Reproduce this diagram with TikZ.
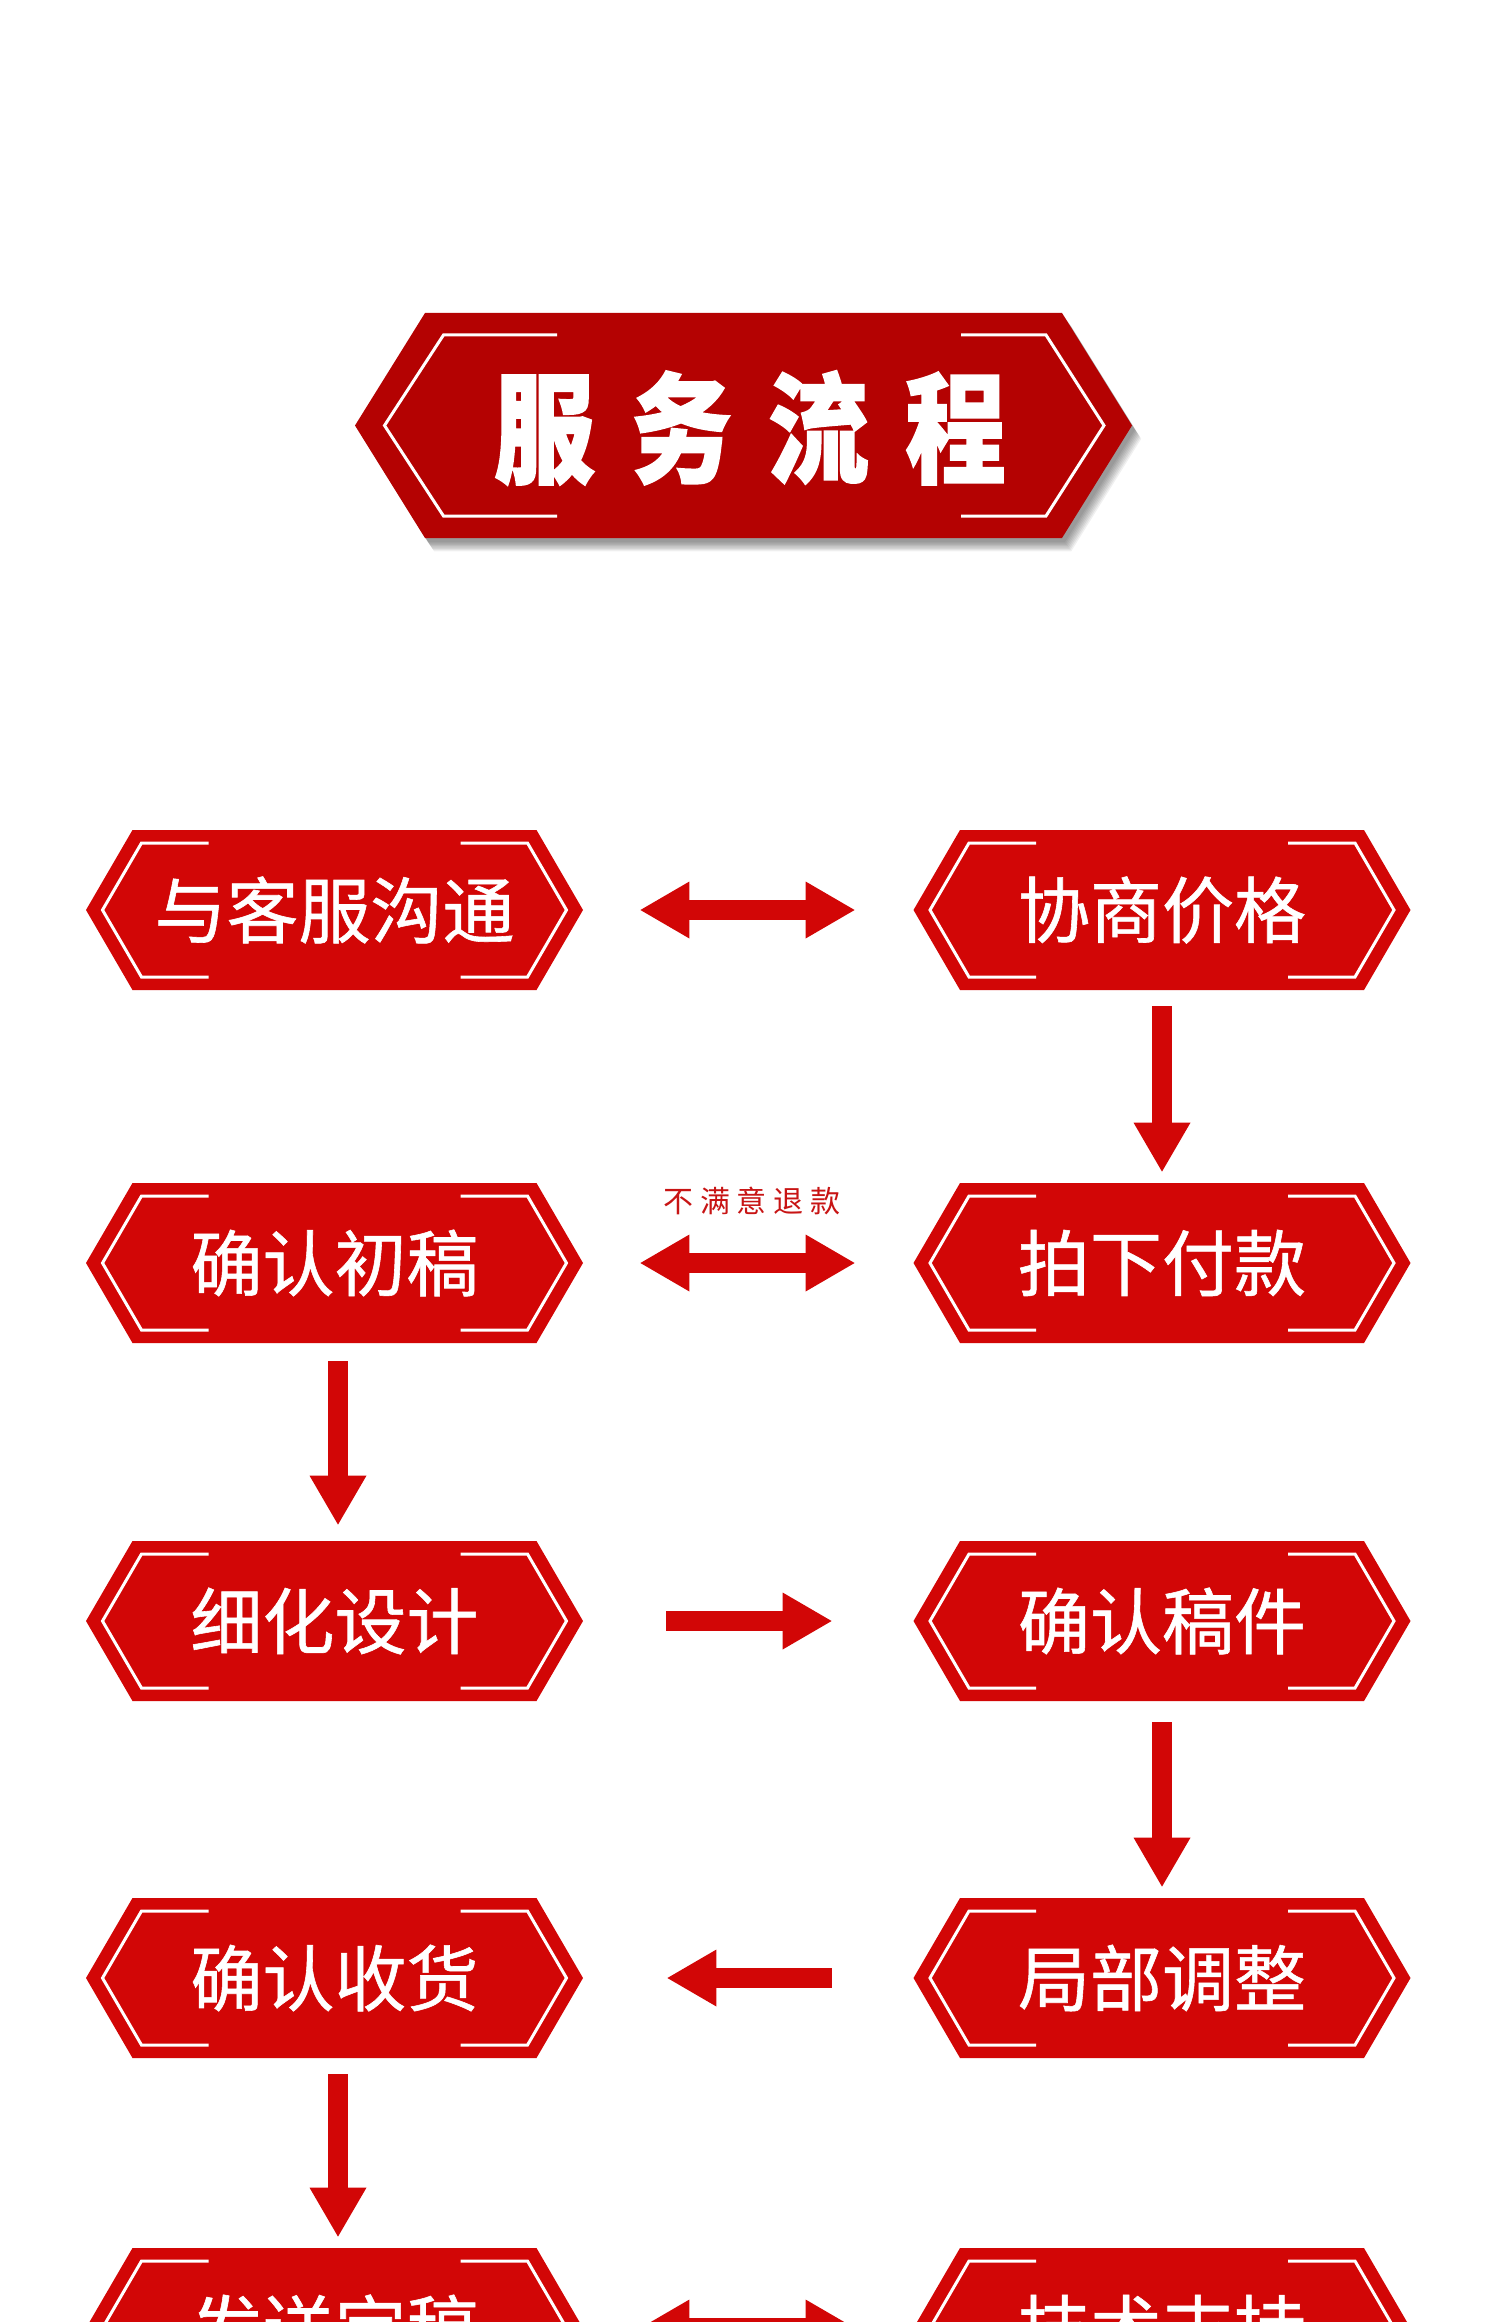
\documentclass[tikz,border=0pt]{standalone}
\usepackage{fontspec}
\usetikzlibrary{arrows.meta}
\newfontfamily\cjk[FakeBold=0.8]{Noto Sans CJK SC}
\newfontfamily\cjktitle[LetterSpace=36,FakeBold=1.5]{Noto Sans CJK SC}
\newfontfamily\cjklabel[LetterSpace=23]{Noto Sans CJK SC}
\definecolor{boxred}{HTML}{D20606}
\definecolor{titlered}{HTML}{B40202}
\definecolor{labelred}{HTML}{C81414}
\tikzset{
  bracket/.style={draw=white, line width=1.5pt},
  pics/hexbox/.style={code={
    \fill[boxred] (-248.5,0) -- (-202,-80) -- (202,-80) -- (248.5,0) -- (202,80) -- (-202,80) -- cycle;
    \draw[bracket] (-126,-67) -- (-193,-67) -- (-232,0) -- (-193,67) -- (-126,67);
    \draw[bracket] (126,-67) -- (193,-67) -- (232,0) -- (193,67) -- (126,67);
  }},
  pics/titlebox/.style={code={
    \foreach \d in {1,...,8}{
      \begin{scope}[shift={(2+0.9*\d,3+1.3*\d)}]
        \fill[black,opacity=0.06] (-388.5,0) -- (-318.5,-112.5) -- (318.5,-112.5) -- (388.5,0) -- (318.5,112.5) -- (-318.5,112.5) -- cycle;
      \end{scope}
    }
    \fill[titlered] (-388.5,0) -- (-318.5,-112.5) -- (318.5,-112.5) -- (388.5,0) -- (318.5,112.5) -- (-318.5,112.5) -- cycle;
    \draw[bracket] (-186.5,-90.5) -- (-300,-90.5) -- (-359,0) -- (-300,90.5) -- (-186.5,90.5);
    \draw[bracket] (217.5,-90.5) -- (302.5,-90.5) -- (360.5,0) -- (302.5,90.5) -- (217.5,90.5);
  }},
  boxtext/.style={minimum width=248.5pt, minimum height=80pt, inner sep=0pt, text=white,
    font=\cjk\fontsize{36pt}{36pt}\selectfont},
  titletext/.style={inner sep=0pt, text=white, font=\cjktitle\bfseries\fontsize{60pt}{60pt}\selectfont},
  refundlabel/.style={inner sep=0pt, text=labelred, font=\cjklabel\fontsize{15pt}{15pt}\selectfont},
  blockarrow/.style={draw=boxred, line width=10pt,
    >={Triangle[length=24.5pt,width=28.5pt,line width=0pt]}},
}
\begin{document}
\begin{tikzpicture}[x=0.5pt,y=-0.5pt]
\path[use as bounding box, fill=white] (0,0) rectangle (1500,2322);
\clip (0,0) rectangle (1500,2322);

% title
\pic at (743.5,425.5) {titlebox};
\node[titletext] (title) at (750,428) {\scalebox{0.84}[1]{服务流程}};

% boxes
\foreach \x/\y in {334.5/910,1162/910,334.5/1263,1162/1263,334.5/1621,1162/1621,334.5/1978,1162/1978,334.5/2328,1162/2328}
  \pic at (\x,\y) {hexbox};

\node[boxtext] (L1) at (334.5,910) {与客服沟通};
\node[boxtext] (R1) at (1162,910) {协商价格};
\node[boxtext] (L2) at (334.5,1263) {确认初稿};
\node[boxtext] (R2) at (1162,1263) {拍下付款};
\node[boxtext] (L3) at (334.5,1621) {细化设计};
\node[boxtext] (R3) at (1162,1621) {确认稿件};
\node[boxtext] (L4) at (334.5,1978) {确认收货};
\node[boxtext] (R4) at (1162,1978) {局部调整};
\node[boxtext] (L5) at (334.5,2328) {发送定稿};
\node[boxtext] (R5) at (1162,2328) {技术支持};

\node[refundlabel] (refund) at (752,1201) {不满意退款};

% connectors
\draw[blockarrow,<->,shorten <=28.5pt,shorten >=29.25pt] (L1.east) -- (R1.west);
\draw[blockarrow,->,shorten <=8pt,shorten >=5.5pt] (R1.south) -- (R2.north);
\draw[blockarrow,<->,shorten <=28.5pt,shorten >=29.25pt] (L2.east) -- (R2.west);
\draw[blockarrow,->,shorten <=9pt,shorten >=8pt] ([xshift=1.75pt]L2.south) -- ([xshift=1.75pt]L3.north);
\draw[blockarrow,->,shorten <=41.5pt,shorten >=40.75pt] (L3.east) -- (R3.west);
\draw[blockarrow,->,shorten <=10.5pt,shorten >=5.5pt] (R3.south) -- (R4.north);
\draw[blockarrow,->,shorten <=40.75pt,shorten >=42pt] (R4.west) -- (L4.east);
\draw[blockarrow,->,shorten <=8pt,shorten >=5.5pt] ([xshift=1.75pt]L4.south) -- ([xshift=1.75pt]L5.north);
\draw[blockarrow,<->,shorten <=28.5pt,shorten >=29.25pt] (L5.east) -- (R5.west);
\end{tikzpicture}
\end{document}
